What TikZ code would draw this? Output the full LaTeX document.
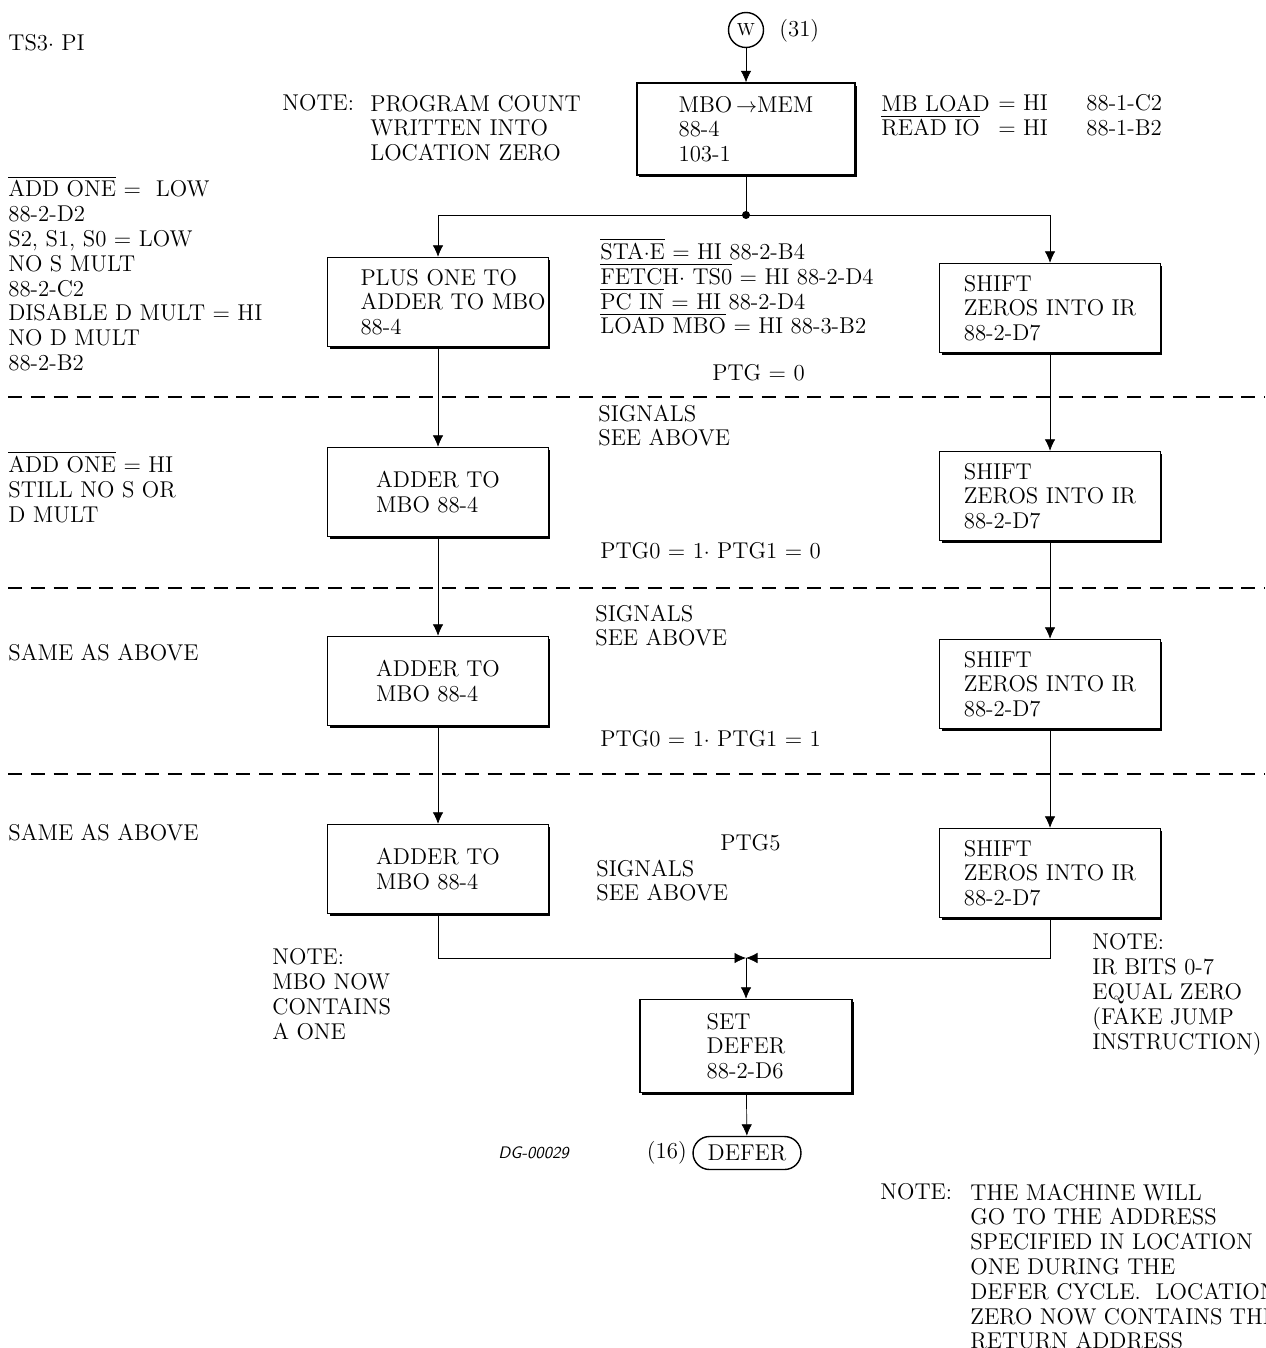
\documentclass[tikz,border=0pt]{standalone}
\usepackage{amsmath,amssymb}
\usepackage{tikz}
\usetikzlibrary{arrows.meta,shapes.misc,shadows}

\newcommand{\ovl}[1]{\smash{$\overline{\mbox{#1}}$}}

\begin{document}
\begin{tikzpicture}[x=0.02cm, y=-0.02cm, every node/.style={font=\fontsize{13}{14.1}\selectfont}, >={Latex[length=2.3mm, width=2.1mm]},
	txt/.style={anchor=north west, align=left, inner sep=0pt, yshift=0.31cm},
	blk/.style={draw, thick, fill=white, align=left, minimum width=4.42cm, minimum height=1.78cm, drop shadow={shadow xshift=0.04cm, shadow yshift=-0.05cm, opacity=1, fill=black}},
	sep/.style={dash pattern=on 8pt off 5pt, line width=0.6pt}]
	\useasboundingbox (0,0) rectangle (1265,1348);
	% top: entry and first step
	\node[txt] (ts) at (8,50) {TS3$\cdot$ PI};
	\node[draw, circle, thick, minimum size=0.7cm, inner sep=0pt, font=\fontsize{10}{12}\selectfont] (w) at (746,30) {W};
	\node[anchor=base west, inner sep=0pt] (wno) at (779,37) {(31)};
	\node[blk, minimum width=4.36cm, minimum height=1.84cm] (b1) at (746,129) {MBO\,$\rightarrow$MEM\\88-4\\103-1};
	\node[txt] (nta) at (282,110) {NOTE:};
	\node[txt] (ntatxt) at (370,110) {PROGRAM COUNT\\WRITTEN INTO\\LOCATION ZERO};
	\node[txt] (mbsig) at (881,110) {MB LOAD\\\ovl{READ IO}};
	\node[txt] (mbval) at (998,110) {= HI\\= HI};
	\node[txt] (mbref) at (1086,110) {88-1-C2\\88-1-B2};
	% step 1
	\node[blk, text width=3.1cm, inner xsep=0.66cm] (l1) at (438,302) {PLUS~ONE~TO\\ADDER~TO~MBO\\88-4};
	\node[blk] (r1) at (1050,308) {SHIFT\\ZEROS INTO IR\\88-2-D7};
	\node[txt] (sig1) at (600,259) {\ovl{STA$\cdot$E} = HI 88-2-B4\\\ovl{FETCH$\cdot$ TS0} = HI 88-2-D4\\\ovl{PC IN} = HI 88-2-D4\\\ovl{LOAD MBO} = HI 88-3-B2};
	\node[txt] (ptg1) at (712,380) {PTG = 0};
	\node[txt] (lft1) at (8,196) {\ovl{ADD ONE} = \ LOW\\88-2-D2\\S2, S1, S0 = LOW\\NO S MULT\\88-2-C2\\DISABLE D MULT = HI\\NO D MULT\\88-2-B2};
	\draw[sep] (8,397) -- (1265,397);
	% step 2
	\node[txt] (sig2) at (598,420) {SIGNALS\\SEE ABOVE};
	\node[blk] (l2) at (438,492) {ADDER TO\\MBO 88-4};
	\node[blk] (r2) at (1050,496) {SHIFT\\ZEROS INTO IR\\88-2-D7};
	\node[txt] (lft2) at (8,472) {\ovl{ADD ONE} = HI\\STILL NO S OR\\D MULT};
	\node[txt] (ptg2) at (600,558) {PTG0 = 1$\cdot$ PTG1 = 0};
	\draw[sep] (8,588) -- (1265,588);
	% step 3
	\node[txt] (sig3) at (595,620) {SIGNALS\\SEE ABOVE};
	\node[blk] (l3) at (438,681) {ADDER TO\\MBO 88-4};
	\node[blk] (r3) at (1050,684) {SHIFT\\ZEROS INTO IR\\88-2-D7};
	\node[txt] (lft3) at (8,659) {SAME AS ABOVE};
	\node[txt] (ptg3) at (600,746) {PTG0 = 1$\cdot$ PTG1 = 1};
	\draw[sep] (8,774) -- (1265,774);
	% step 4
	\node[blk] (l4) at (438,869) {ADDER TO\\MBO 88-4};
	\node[blk] (r4) at (1050,873) {SHIFT\\ZEROS INTO IR\\88-2-D7};
	\node[txt] (lft4) at (8,839) {SAME AS ABOVE};
	\node[txt] (ptg4) at (720,850) {PTG5};
	\node[txt] (sig4) at (596,875) {SIGNALS\\SEE ABOVE};
	\node[txt] (ntl) at (272,964) {NOTE:\\MBO NOW\\CONTAINS\\A ONE};
	\node[txt] (ntr) at (1092,949) {NOTE:\\IR BITS 0-7\\EQUAL ZERO\\(FAKE JUMP\\INSTRUCTION)};
	% exit
	\coordinate (mrg) at (746,958);
	\node[blk, minimum width=4.24cm, minimum height=1.86cm] (sd) at (746,1046) {SET\\DEFER\\88-2-D6};
	\node[draw, thick, rounded rectangle, minimum width=2.3cm, minimum height=0.66cm, inner sep=2pt] (dfr) at (747,1153) {DEFER};
	\node[anchor=east, inner sep=3pt] (dfrno) at (dfr.west) {(16)};
	\node[txt, font=\fontsize{9.5}{12}\sffamily\itshape, yshift=-0.05cm] (dg) at (498,1159) {DG-00029};
	\node[txt] (ntb) at (880,1199) {NOTE:};
	\node[txt] (ntbtxt) at (970,1199) {THE MACHINE WILL\\GO TO THE ADDRESS\\SPECIFIED IN LOCATION\\ONE DURING THE\\DEFER CYCLE.\ \ LOCATION\\ZERO NOW CONTAINS THE\\RETURN ADDRESS};
	% connectors
	\coordinate (split) at (746,215);
	\draw[->] (w) -- (b1);
	\draw (b1) -- (split);
	\draw[->] (split) -| (l1);
	\draw[->] (split) -| (r1);
	\fill (split) circle (4);
	\draw[->] (l1) -- (l2);
	\draw[->] (l2) -- (l3);
	\draw[->] (l3) -- (l4);
	\draw[->] (r1) -- (r2);
	\draw[->] (r2) -- (r3);
	\draw[->] (r3) -- (r4);
	\draw[->] (l4) |- (mrg);
	\draw[->] (r4) |- (mrg);
	\draw[->] (mrg) -- (sd);
	\draw[->] (sd) -- (dfr);
\end{tikzpicture}
\end{document}
